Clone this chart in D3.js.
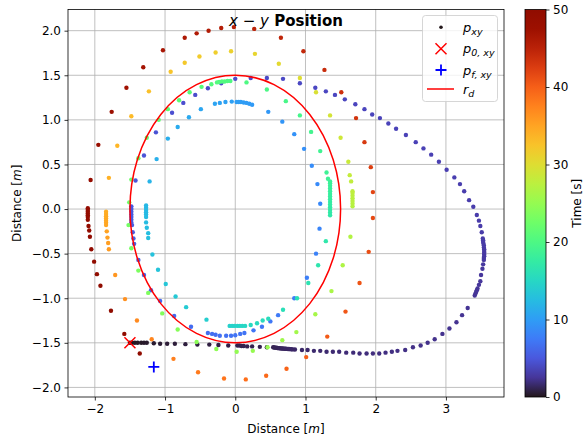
<!DOCTYPE html>
<html>
<head>
<meta charset="utf-8">
<script src="https://cdn.jsdelivr.net/npm/d3@7"></script>
<style>
  body { margin: 0; background: #fff; }
  text { font-family: "DejaVu Sans", sans-serif; fill: #000; }
</style>
</head>
<body>
<script>
// trajectory samples [x, y, t], split by lap
var lapOneBottom = [
  [-1.50,-1.50,0.0],[-1.47,-1.50,0.05],[-1.43,-1.50,0.1],[-1.39,-1.50,0.15],[-1.34,-1.50,0.2],
  [-1.30,-1.50,0.25],[-1.26,-1.50,0.3],[-1.16,-1.505,0.35],[-1.07,-1.51,0.4],[-0.97,-1.51,0.45],
  [-0.86,-1.51,0.5],[-0.71,-1.515,0.55],[-0.54,-1.52,0.6],[-0.37,-1.52,0.65],[-0.24,-1.525,0.7],
  [-0.10,-1.53,0.75],[0.03,-1.53,0.8],[0.06,-1.53,0.82],[0.09,-1.535,0.84],[0.12,-1.535,0.86],
  [0.17,-1.54,0.88],[0.24,-1.54,0.9],[0.35,-1.545,0.92],[0.45,-1.55,0.94],
  [0.54,-1.55,0.96],[0.555,-1.552,0.98],[0.57,-1.554,1.0],[0.585,-1.556,1.02],[0.60,-1.558,1.04],
  [0.615,-1.56,1.06],[0.63,-1.561,1.08],[0.645,-1.562,1.1],[0.66,-1.563,1.12],[0.675,-1.564,1.14],
  [0.69,-1.565,1.16],[0.705,-1.566,1.18],[0.72,-1.567,1.2],[0.735,-1.568,1.22],[0.75,-1.569,1.24],
  [0.765,-1.57,1.26],[0.78,-1.571,1.28],[0.80,-1.572,1.3],[0.82,-1.574,1.32],[0.85,-1.575,1.34],
  [0.95,-1.58,1.38],[1.03,-1.58,1.42],[1.12,-1.59,1.46],[1.21,-1.59,1.5],[1.30,-1.60,1.54],
  [1.39,-1.60,1.58],[1.48,-1.60,1.62],[1.58,-1.61,1.66],[1.68,-1.61,1.7],[1.77,-1.62,1.74]
];
var lapOneRight = [
  [1.87,-1.62,1.78],[1.96,-1.62,1.82],[2.05,-1.62,1.86],[2.14,-1.61,1.9],[2.23,-1.60,1.94],
  [2.31,-1.59,1.98],[2.42,-1.58,2.02],[2.53,-1.55,2.06],[2.64,-1.53,2.1],[2.74,-1.50,2.14],
  [2.84,-1.46,2.18],[2.95,-1.40,2.22],[3.05,-1.34,2.26],[3.15,-1.27,2.3],[3.23,-1.19,2.34],
  [3.31,-1.11,2.38],[3.41,-0.97,2.42],[3.42,-0.95,2.44],[3.43,-0.93,2.46],[3.44,-0.91,2.48],
  [3.45,-0.89,2.5],[3.47,-0.85,2.52],[3.49,-0.81,2.56],[3.50,-0.74,2.6],[3.52,-0.67,2.64],
  [3.53,-0.62,2.68],[3.54,-0.57,2.7],[3.54,-0.55,2.72],[3.545,-0.53,2.74],[3.545,-0.51,2.76],
  [3.545,-0.49,2.78],[3.545,-0.47,2.8],[3.545,-0.45,2.82],[3.54,-0.43,2.84],[3.54,-0.41,2.86],
  [3.535,-0.39,2.88],[3.53,-0.37,2.9],[3.53,-0.35,2.92],[3.525,-0.33,2.94],[3.51,-0.26,2.96],
  [3.49,-0.19,2.98],[3.47,-0.13,3.0],[3.44,-0.067,3.02],[3.39,0.026,3.04],[3.33,0.10,3.06]
];
var lapOneTop = [
  [3.26,0.20,3.08],[3.20,0.28,3.12],[3.12,0.355,3.16],[3.01,0.44,3.2],[2.90,0.53,3.24],
  [2.79,0.61,3.28],[2.68,0.68,3.32],[2.57,0.75,3.36],[2.43,0.83,3.4],[2.29,0.90,3.44],
  [2.18,0.96,3.48],[2.06,1.02,3.52],[1.95,1.06,3.56],[1.84,1.12,3.6],[1.71,1.175,3.64],
  [1.56,1.23,3.68],[1.42,1.28,3.72],[1.29,1.32,3.76],[1.14,1.36,3.8],[0.92,1.41,3.85],
  [0.68,1.46,3.9],[0.45,1.47,3.95],[0.22,1.47,4.0],[0.0,1.46,4.05],[-0.20,1.41,4.1]
];
var lapTwo = [
  [-0.39,1.355,4.15],[-0.57,1.28,4.2],[-0.74,1.19,4.3],[-0.90,1.08,4.4],[-1.13,0.86,4.55],
  [-1.30,0.60,4.7],[-1.42,0.32,4.85],
  [-1.48,0.03,5.0],[-1.48,0.0,5.05],[-1.48,-0.03,5.1],[-1.48,-0.06,5.15],[-1.48,-0.09,5.2],
  [-1.48,-0.12,5.25],[-1.48,-0.15,5.3],[-1.47,-0.18,5.35],[-1.46,-0.26,5.4],[-1.45,-0.33,5.5],
  [-1.44,-0.39,5.6],[-1.38,-0.57,5.75],[-1.30,-0.74,5.9],[-1.20,-0.91,6.0],[-1.07,-1.03,6.1],
  [-0.87,-1.20,6.25],[-0.63,-1.32,6.4],[-0.39,-1.39,6.55],[-0.33,-1.40,6.6],[-0.28,-1.41,6.65],
  [-0.22,-1.42,6.7],[-0.13,-1.42,6.8],[-0.06,-1.42,6.85],[0.0,-1.415,6.9],[0.07,-1.40,6.95],
  [0.13,-1.39,7.0],[0.26,-1.36,7.1],[0.38,-1.32,7.2],[0.50,-1.26,7.3],[0.61,-1.19,7.4],
  [0.84,-1.00,7.6],[1.02,-0.77,7.8],[1.15,-0.50,8.0],[1.20,-0.22,8.2],[1.21,0.06,8.4],
  [1.17,0.28,8.6],[1.09,0.485,8.8],[0.98,0.675,9.0],[0.84,0.84,9.2],[0.67,0.98,9.4],[0.47,1.09,9.6]
];
var lapThree = [
  [0.24,1.17,9.8],[0.20,1.18,9.85],[0.16,1.19,9.9],[0.12,1.195,9.95],[0.08,1.20,10.0],
  [0.05,1.20,10.05],[0.02,1.20,10.1],[-0.05,1.205,10.2],[-0.14,1.20,10.3],[-0.22,1.19,10.4],
  [-0.29,1.18,10.5],[-0.49,1.12,10.7],[-0.66,1.03,10.9],[-0.82,0.92,11.1],[-0.96,0.79,11.3],
  [-1.12,0.56,11.5],[-1.22,0.31,11.8],
  [-1.27,0.04,12.1],[-1.27,0.015,12.15],[-1.27,-0.01,12.2],[-1.27,-0.035,12.25],[-1.27,-0.06,12.3],
  [-1.27,-0.09,12.35],[-1.27,-0.15,12.45],[-1.26,-0.21,12.55],[-1.24,-0.27,12.65],[-1.24,-0.325,12.75],
  [-1.18,-0.51,13.0],[-1.10,-0.68,13.2],[-0.99,-0.84,13.4],[-0.85,-0.98,13.6],[-0.70,-1.10,13.8],
  [-0.41,-1.24,14.1],
  [-0.08,-1.31,14.4],[-0.045,-1.31,14.5],[-0.01,-1.31,14.6],[0.03,-1.31,14.7],[0.065,-1.31,14.8],
  [0.10,-1.31,14.9],[0.14,-1.31,15.0],[0.22,-1.30,15.2],[0.31,-1.28,15.35],[0.39,-1.25,15.5],
  [0.47,-1.23,15.6],[0.68,-1.13,15.9],[0.88,-1.00,16.15],[1.04,-0.83,16.4],[1.18,-0.63,16.65],
  [1.29,-0.36,16.9],
  [1.35,-0.07,17.1],[1.35,-0.04,17.2],[1.35,-0.01,17.3],[1.35,0.02,17.4],[1.35,0.05,17.5],
  [1.35,0.08,17.6],[1.35,0.11,17.7],[1.35,0.14,17.8],[1.35,0.17,17.9],[1.35,0.20,18.0],
  [1.35,0.23,18.1],[1.35,0.26,18.2],[1.35,0.29,18.3],[1.35,0.31,18.4]
];
var lapFour = [
  [1.32,0.34,18.5],[1.30,0.41,18.6],[1.21,0.65,18.85],[1.08,0.865,19.1],[0.92,1.05,19.35],
  [0.72,1.21,19.6],[0.45,1.34,19.85],[0.16,1.42,20.1],
  [-0.07,1.435,20.25],[-0.11,1.435,20.3],[-0.15,1.43,20.35],[-0.19,1.43,20.4],[-0.23,1.425,20.45],
  [-0.26,1.42,20.5],[-0.34,1.40,20.6],[-0.48,1.37,20.8],[-0.65,1.31,21.0],[-0.80,1.22,21.2],
  [-0.96,1.12,21.4],[-1.09,1.0,21.6],[-1.26,0.80,21.85],[-1.38,0.57,22.1],[-1.48,0.33,22.35],
  [-1.51,0.075,22.6],[-1.52,-0.18,22.85],[-1.48,-0.44,23.1],[-1.38,-0.69,23.35],[-1.24,-0.94,23.6],
  [-1.04,-1.17,23.85],[-0.82,-1.35,24.1],[-0.55,-1.49,24.35],[-0.27,-1.57,24.6],[0.02,-1.60,24.85],
  [0.25,-1.59,25.1],[0.46,-1.55,25.35],[0.67,-1.47,25.6],[0.87,-1.38,25.85],[1.14,-1.18,26.1],
  [1.37,-0.92,26.35],[1.53,-0.63,26.6],[1.64,-0.31,26.85]
];
var lapFive = [
  [1.67,0.03,27.1],[1.67,0.06,27.2],[1.67,0.09,27.3],[1.67,0.12,27.4],[1.67,0.15,27.5],
  [1.67,0.18,27.6],[1.67,0.20,27.7],[1.65,0.31,27.9],[1.63,0.38,28.1],[1.61,0.53,28.4],
  [1.50,0.80,28.8],[1.35,1.05,29.2],[1.15,1.31,29.6],[0.92,1.47,30.0],[0.62,1.63,30.4],
  [0.28,1.74,30.8],[-0.06,1.77,31.2],[-0.28,1.755,31.5],[-0.51,1.71,31.8],[-0.72,1.64,32.1],
  [-0.92,1.54,32.4],[-1.23,1.32,32.8],[-1.48,1.04,33.2],[-1.68,0.71,33.6],[-1.80,0.35,34.0],
  [-1.84,-0.03,34.3],[-1.84,-0.055,34.4],[-1.84,-0.08,34.5],[-1.84,-0.105,34.6],[-1.84,-0.13,34.7],
  [-1.84,-0.155,34.8],[-1.84,-0.18,34.9],[-1.83,-0.25,35.1],[-1.82,-0.32,35.3],[-1.81,-0.38,35.5],
  [-1.80,-0.45,35.7],[-1.71,-0.74,36.1],[-1.57,-1.01,36.5],[-1.40,-1.25,36.9],[-1.19,-1.46,37.3],
  [-0.88,-1.68,37.7],[-0.53,-1.83,38.1],[-0.16,-1.90,38.5],[0.15,-1.91,38.9],[0.44,-1.87,39.3],
  [0.73,-1.79,39.7],[1.01,-1.66,40.0],[1.31,-1.43,40.3],[1.57,-1.15,40.6]
];
var lapSix = [
  [1.77,-0.83,40.8],[1.90,-0.48,41.2],[1.96,-0.10,41.6],[1.96,0.19,42.0],[1.93,0.47,42.4],
  [1.84,0.75,42.8],[1.72,1.02,43.2],[1.51,1.31,43.6],[1.27,1.56,44.0],[0.97,1.77,44.3],
  [0.65,1.92,44.6],[0.27,2.02,44.9],[-0.02,2.04,45.2],[-0.20,2.03,45.4],[-0.38,2.00,45.6],
  [-0.55,1.97,45.8],[-0.72,1.92,46.0],[-1.03,1.78,46.4],[-1.31,1.59,46.8],[-1.55,1.36,47.2],
  [-1.76,1.09,47.6],[-1.95,0.72,48.0],[-2.06,0.325,48.4],
  [-2.10,0.01,48.6],[-2.10,-0.01,48.65],[-2.10,-0.03,48.7],[-2.10,-0.05,48.75],[-2.10,-0.07,48.8],
  [-2.10,-0.09,48.85],[-2.10,-0.12,48.9],[-2.09,-0.19,49.0],[-2.08,-0.24,49.1],[-2.07,-0.31,49.2],
  [-2.05,-0.45,49.3],[-2.01,-0.59,49.4],[-1.97,-0.73,49.5],[-1.92,-0.86,49.6],[-1.77,-1.14,49.75],
  [-1.58,-1.40,49.9],[-1.36,-1.62,50.0]
];

var startPoint = [-1.5, -1.5];
var finalPoint = [-1.16, -1.77];
var desiredRadius = 1.5;

var xTicks = [-2, -1, 0, 1, 2, 3];
var yTicks = [-2.0, -1.5, -1.0, -0.5, 0.0, 0.5, 1.0, 1.5, 2.0];
var timeTicks = [0, 10, 20, 30, 40, 50];

var points = [].concat(lapOneBottom, lapOneRight, lapOneTop, lapTwo, lapThree, lapFour, lapFive, lapSix);

var W = 587, H = 441;
var plot = {left: 68, right: 504, top: 9.5, bottom: 397};
var bar = {left: 525, right: 546};

var svg = d3.select("body").append("svg")
    .attr("width", W)
    .attr("height", H);

var x = d3.scaleLinear().domain([-2.382, 3.827]).range([plot.left, plot.right]);
var y = d3.scaleLinear().domain([-2.1075, 2.2375]).range([plot.bottom, plot.top]);
var color = d3.scaleSequential(d3.interpolateTurbo).domain([0, 50]);
var minus = function(v, fmt) { return d3.format(fmt)(v).replace("-", "\u2212"); };

svg.append("defs").append("clipPath").attr("id", "clip")
  .append("rect")
    .attr("x", plot.left).attr("y", plot.top)
    .attr("width", plot.right - plot.left).attr("height", plot.bottom - plot.top);

// grid
svg.append("g").selectAll("line").data(xTicks).enter().append("line")
    .attr("x1", function(d) { return x(d); }).attr("x2", function(d) { return x(d); })
    .attr("y1", plot.top).attr("y2", plot.bottom)
    .attr("stroke", "#b0b0b0").attr("stroke-width", 0.8);
svg.append("g").selectAll("line").data(yTicks).enter().append("line")
    .attr("y1", function(d) { return y(d); }).attr("y2", function(d) { return y(d); })
    .attr("x1", plot.left).attr("x2", plot.right)
    .attr("stroke", "#b0b0b0").attr("stroke-width", 0.8);

// axes
var xAxis = svg.append("g")
    .attr("transform", "translate(0," + plot.bottom + ")")
    .call(d3.axisBottom(x).tickValues(xTicks).tickSize(3.5).tickPadding(3.5)
      .tickFormat(function(d) { return minus(d, "d"); }));
var yAxis = svg.append("g")
    .attr("transform", "translate(" + plot.left + ",0)")
    .call(d3.axisLeft(y).tickValues(yTicks).tickSize(3.5).tickPadding(3.5)
      .tickFormat(function(d) { return minus(d, ".1f"); }));
[xAxis, yAxis].forEach(function(a) {
  a.select(".domain").remove();
  a.selectAll(".tick line").attr("stroke", "#000").attr("stroke-width", 0.8);
  a.selectAll(".tick text").style("font-family", "DejaVu Sans").style("font-size", "12px").attr("fill", "#000");
});

// scatter
var dots = svg.append("g").attr("clip-path", "url(#clip)");
dots.selectAll("circle").data(points).enter().append("circle")
    .attr("cx", function(d) { return x(d[0]); })
    .attr("cy", function(d) { return y(d[1]); })
    .attr("r", 2.2)
    .attr("fill", function(d) { return color(d[2]); });

// desired radius circle
svg.append("ellipse")
    .attr("cx", x(0)).attr("cy", y(0))
    .attr("rx", x(desiredRadius) - x(0))
    .attr("ry", y(0) - y(desiredRadius))
    .attr("fill", "none").attr("stroke", "#ff0000").attr("stroke-width", 1.5);

// start / end markers
function cross(g, cx, cy, s, col) {
  g.append("path")
    .attr("d", "M" + (cx - s) + "," + (cy - s) + "L" + (cx + s) + "," + (cy + s) +
               "M" + (cx - s) + "," + (cy + s) + "L" + (cx + s) + "," + (cy - s))
    .attr("stroke", col).attr("stroke-width", 1.5).attr("fill", "none");
}
function plus(g, cx, cy, s, col) {
  g.append("path")
    .attr("d", "M" + (cx - s) + "," + cy + "L" + (cx + s) + "," + cy +
               "M" + cx + "," + (cy - s) + "L" + cx + "," + (cy + s))
    .attr("stroke", col).attr("stroke-width", 1.8).attr("fill", "none");
}
cross(svg, x(startPoint[0]), y(startPoint[1]), 5.5, "#ff0000");
plus(svg, x(finalPoint[0]), y(finalPoint[1]), 5.5, "#0000ff");

// frame
svg.append("rect")
    .attr("x", plot.left).attr("y", plot.top)
    .attr("width", plot.right - plot.left).attr("height", plot.bottom - plot.top)
    .attr("fill", "none").attr("stroke", "#000").attr("stroke-width", 0.8);

// title
var title = svg.append("text").attr("x", (plot.left + plot.right) / 2).attr("y", 26)
    .attr("text-anchor", "middle").style("font-size", "15px");
title.append("tspan").style("font-style", "italic").text("x");
title.append("tspan").text(" \u2212 ");
title.append("tspan").style("font-style", "italic").text("y");
title.append("tspan").style("font-weight", "bold").text(" Position");

// axis labels
var xl = svg.append("text").attr("x", (plot.left + plot.right) / 2).attr("y", 433)
    .attr("text-anchor", "middle").style("font-size", "12px");
xl.append("tspan").text("Distance [");
xl.append("tspan").style("font-style", "italic").text("m");
xl.append("tspan").text("]");
var yl = svg.append("text")
    .attr("transform", "translate(21," + ((plot.top + plot.bottom) / 2) + ") rotate(-90)")
    .attr("text-anchor", "middle").style("font-size", "12px");
yl.append("tspan").text("Distance [");
yl.append("tspan").style("font-style", "italic").text("m");
yl.append("tspan").text("]");

// legend
var lg = svg.append("g");
lg.append("rect").attr("x", 422.5).attr("y", 15.5).attr("width", 75).attr("height", 86)
    .attr("rx", 3).attr("fill", "#fff").attr("fill-opacity", 0.8)
    .attr("stroke", "#cccccc").attr("stroke-width", 0.8);
lg.append("circle").attr("cx", 441).attr("cy", 27.3).attr("r", 1.8).attr("fill", color(0));
cross(lg, 441, 48.7, 5.5, "#ff0000");
plus(lg, 441, 70, 5.5, "#0000ff");
lg.append("line").attr("x1", 427).attr("x2", 454).attr("y1", 89).attr("y2", 89)
    .attr("stroke", "#ff0000").attr("stroke-width", 1.5);
var legendLabels = [["p", "xy", 31.5], ["p", "0, xy", 53], ["p", "f, xy", 74.5], ["r", "d", 93.5]];
legendLabels.forEach(function(l) {
  var t = lg.append("text").attr("x", 463).attr("y", l[2]).style("font-size", "13px").style("font-style", "italic");
  t.append("tspan").text(l[0]);
  t.append("tspan").attr("dy", 3).style("font-size", "9.5px").text(l[1]);
});

// colorbar
var grad = svg.select("defs").append("linearGradient").attr("id", "cbar")
    .attr("x1", 0).attr("x2", 0).attr("y1", 1).attr("y2", 0);
d3.range(0, 1.0001, 0.05).forEach(function(f) {
  grad.append("stop").attr("offset", f).attr("stop-color", d3.interpolateTurbo(f));
});
svg.append("rect").attr("x", bar.left).attr("y", plot.top)
    .attr("width", bar.right - bar.left).attr("height", plot.bottom - plot.top)
    .attr("fill", "url(#cbar)").attr("stroke", "#000").attr("stroke-width", 0.8);
var cScale = d3.scaleLinear().domain([0, 50]).range([plot.bottom, plot.top]);
var cAxis = svg.append("g").attr("transform", "translate(" + bar.right + ",0)")
    .call(d3.axisRight(cScale).tickValues(timeTicks).tickSize(3.5).tickPadding(3.5));
cAxis.select(".domain").remove();
cAxis.selectAll(".tick line").attr("stroke", "#000").attr("stroke-width", 0.8);
cAxis.selectAll(".tick text").style("font-family", "DejaVu Sans").style("font-size", "12px").attr("fill", "#000");
var cl = svg.append("text")
    .attr("transform", "translate(581," + ((plot.top + plot.bottom) / 2) + ") rotate(-90)")
    .attr("text-anchor", "middle").style("font-size", "12px").text("Time [s]");
</script>
</body>
</html>
